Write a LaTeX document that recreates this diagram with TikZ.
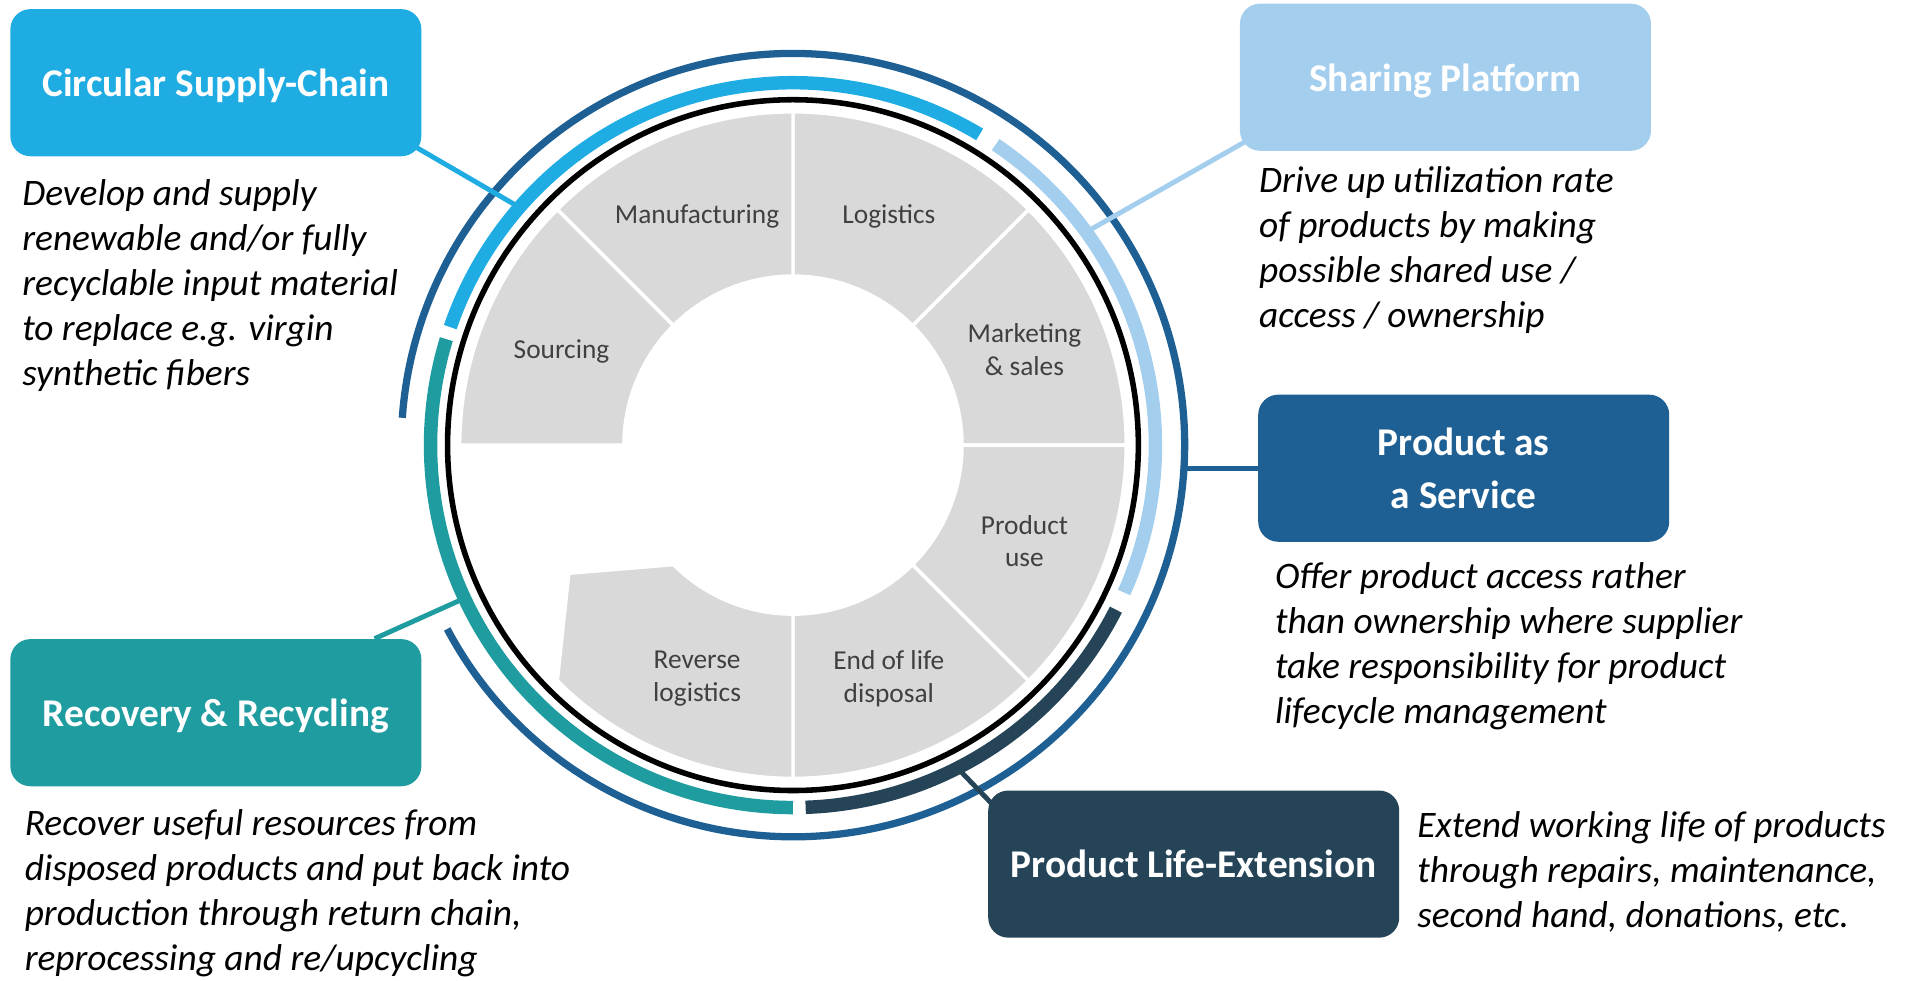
\documentclass[tikz,border=0pt]{standalone}
\usepackage{fontspec}
\setmainfont{Carlito}
\usetikzlibrary{positioning}
\definecolor{supplyblue}{HTML}{1FACE3}
\definecolor{shareblue}{HTML}{A3CEEE}
\definecolor{serviceblue}{HTML}{1F6094}
\definecolor{recoverteal}{HTML}{1F9C9F}
\definecolor{lifenavy}{HTML}{254458}
\definecolor{wheelgray}{HTML}{D9D9D9}
\definecolor{labelgray}{HTML}{404040}
\pgfdeclarelayer{background}
\pgfsetlayers{background,main}

\begin{document}
\begin{tikzpicture}[x=0.02cm, y=0.02cm,
  modelbox/.style={rectangle, rounded corners=0.33cm, minimum width=6.76cm, minimum height=2.42cm, inner sep=0pt, text depth=0pt, align=center, text=white, font=\fontsize{18.4}{25}\selectfont\bfseries},
  desc/.style={anchor=base west, align=left, inner sep=0pt, font=\fontsize{17.5}{21}\selectfont\itshape},
  wedge/.style={fill=wheelgray, draw=white, line width=1.6pt},
  wedgelabel/.style={align=center, inner sep=0pt, text depth=0pt, text=labelgray, font=\fontsize{12.8}{15.4}\selectfont},
  band/.style={line width=6.3pt},
  link/.style={line width=2.3pt}]
\useasboundingbox (0,0) rectangle (1568,805.8);
\coordinate (C) at (652,439.8);

% business model boxes
\node[modelbox, fill=supplyblue] (supply) at (177.5,737.8) {Circular Supply-Chain};
\node[modelbox, fill=shareblue] (share) at (1188.5,742.3) {Sharing Platform};
\node[modelbox, fill=serviceblue] (service) at (1203.5,420.8) {Product as\\a Service};
\node[modelbox, fill=recoverteal] (recover) at (177.5,219.8) {Recovery \& Recycling};
\node[modelbox, fill=lifenavy] (life) at (981.5,95.3) {Product Life-Extension};

% texts sit on the baseline of their last line
\node[desc] (supplytext) at (18,489.2) {Develop and supply\\renewable and/or fully\\recyclable input material\\to replace e.g. virgin\\synthetic fibers};
\node[desc] (sharetext) at (1035,536.6) {Drive up utilization rate\\of products by making\\possible shared use /\\access / ownership};
\node[desc] (servicetext) at (1048,211.1) {Offer product access rather\\than ownership where supplier\\take responsibility for product\\lifecycle management};
\node[desc] (recovertext) at (20,8.1) {Recover useful resources from\\disposed products and put back into\\production through return chain,\\reprocessing and re/upcycling};
\node[desc] (lifetext) at (1165,43) {Extend working life of products\\through repairs, maintenance,\\second hand, donations, etc.};

\begin{pgfonlayer}{background}
% value chain wheel
\foreach \a in {0,45,90,135,270,315}
  \draw[wedge] ([shift={(\a:139)}]C) arc[start angle=\a, end angle=\a+45, radius=139]
    -- ([shift={(\a+45:274)}]C) arc[start angle=\a+45, end angle=\a, radius=274] -- cycle;
\draw[wedge] ([shift={(225:139)}]C) -- (467.7,334.4) -- ([shift={(225:274)}]C)
  arc[start angle=225, end angle=270, radius=274] -- ([shift={(270:139)}]C)
  arc[start angle=270, end angle=225, radius=139] -- cycle;
\foreach \a/\txt [count=\i] in {22.5/{Marketing\\\& sales}, 67.5/Logistics, 112.5/Manufacturing, 157.5/Sourcing, 247.5/{Reverse\\logistics}, 292.5/{End of life\\disposal}, 337.5/{Product\\use}}
  \node[wedgelabel] (stage\i) at ([shift={(\a:206)}]C) {\txt};
\draw[line width=2.6pt] (C) circle[radius=284];

% model bands round the wheel
\draw[band, supplyblue] ([shift={(59:298)}]C) arc[start angle=59, end angle=161, radius=298];
\draw[band, shareblue] ([shift={(-24:298)}]C) arc[start angle=-24, end angle=56, radius=298];
\draw[band, recoverteal] ([shift={(163:298)}]C) arc[start angle=163, end angle=270, radius=298];
\draw[band, lifenavy] ([shift={(-88:298)}]C) arc[start angle=-88, end angle=-27, radius=298];
\draw[serviceblue, line width=3.4pt] ([shift={(-152:322)}]C) arc[start angle=-152, end angle=176, radius=322];

\coordinate (supplyend) at ([shift={(139:298)}]C);
\coordinate (shareend) at ([shift={(36:298)}]C);
\coordinate (serviceend) at ([shift={(-3.4:322)}]C);
\coordinate (recoverend) at ([shift={(205:298)}]C);
\coordinate (lifeend) at ([shift={(-63:298)}]C);
\draw[link, supplyblue] ([shift={(-12,12)}]supply.south east) -- (supplyend);
\draw[link, shareblue] ([shift={(12,12)}]share.south west) -- (shareend);
\draw[link, serviceblue] (service.west) -- (service.west -| serviceend);
\draw[link, recoverteal] (recover.25) -- (recoverend);
\draw[link, lifenavy] ([shift={(6,-14)}]life.north west) -- (lifeend);
\end{pgfonlayer}
\end{tikzpicture}
\end{document}
